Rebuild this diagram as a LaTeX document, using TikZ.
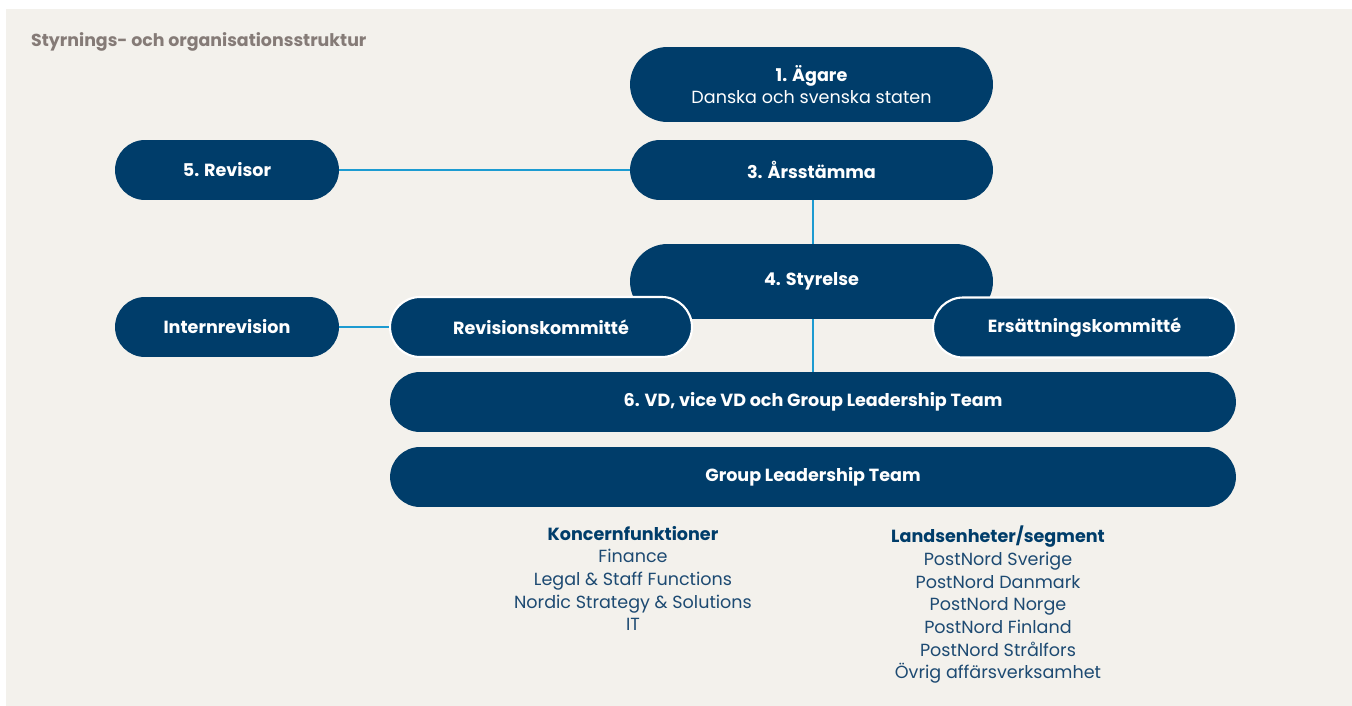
\documentclass[tikz,border=0pt]{standalone}
\usepackage{fontspec}
\setmainfont{Poppins}
\usetikzlibrary{positioning}
\definecolor{pnbeige}{HTML}{F3F1EC}
\definecolor{pnblue}{HTML}{003D6A}
\definecolor{pnline}{HTML}{1C9BD1}
\definecolor{pngrey}{HTML}{857B77}
\definecolor{pntext}{HTML}{1D4A72}
\begin{document}
\begin{tikzpicture}[x=0.02cm,y=-0.02cm,
    box/.style={fill=pnblue, text=white, font=\fontsize{10}{12.5}\selectfont\bfseries, rounded corners=0.6cm, minimum height=1.2cm, inner sep=0pt},
    tallbox/.style={box, rounded corners=0.75cm, minimum height=1.5cm},
    committee/.style={box, draw=white, line width=1.2pt},
    link/.style={pnline, line width=1.1pt},
    list/.style={text=pntext, align=center, anchor=north, font=\fontsize{10}{12.9}\selectfont}]
    \useasboundingbox (0,0) rectangle (1352,706);
    \fill [white] (0,0) rectangle (1352,706);
    \fill [pnbeige] (6,9) rectangle (1352,706);
    \node [anchor=base west, text=pngrey, font=\fontsize{9.9}{12}\selectfont\bfseries] (title) at (25,47) {Styrnings- och organisationsstruktur};

    \node [tallbox, minimum width=7.26cm, align=center] (agare) at (811.5,84.5) {1. Ägare\\[0pt]{\mdseries Danska och svenska staten}};
    \node [box, minimum width=7.26cm] (stamma) at (811.5,170) {3. Årsstämma};
    \node [box, minimum width=4.48cm] (revisor) at (227,170) {5. Revisor};
    \node [box, minimum width=4.48cm] (internrev) at (227,327) {Internrevision};
    \node [box, minimum width=16.92cm] (vd) at (813,402) {6. VD, vice VD och Group Leadership Team};
    \node [box, minimum width=16.92cm] (glt) at (813,477) {Group Leadership Team};
    \node [tallbox, minimum width=7.26cm] (styrelse) at (811.5,281.5) {4. Styrelse};

    \draw [link] (revisor) -- (stamma);
    \draw [link] (stamma.south -| vd.north) -- (styrelse.north -| vd.north);
    \draw [link] (styrelse.south -| vd.north) -- (vd.north);

    \node [committee, minimum width=6.04cm] (revkom) at (541,327) {Revisionskommitté};
    \node [committee, minimum width=6.06cm] (ersattkom) at (1084.5,327.5) {Ersättningskommitté};
    \draw [link] (internrev) -- (revkom);

    \node [list] (koncern) at (633,520) {{\bfseries\color{pnblue}Koncernfunktioner}\\Finance\\Legal \& Staff Functions\\Nordic Strategy \& Solutions\\IT};
    \node [list] (lands) at (998,520) {{\bfseries\color{pnblue}Landsenheter/segment}\\PostNord Sverige\\PostNord Danmark\\PostNord Norge\\PostNord Finland\\PostNord Strålfors\\Övrig affärsverksamhet};
\end{tikzpicture}
\end{document}
